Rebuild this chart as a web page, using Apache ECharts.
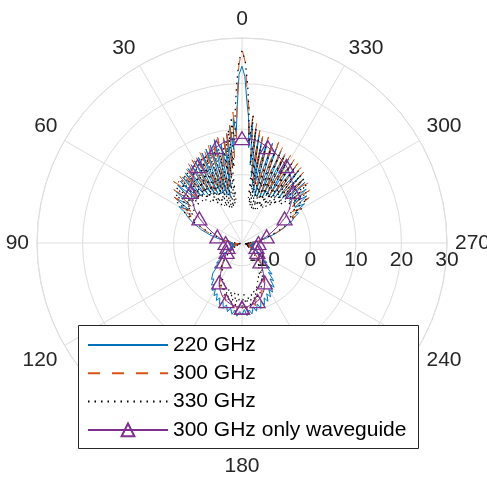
<!DOCTYPE html>
<html><head><meta charset="utf-8">
<script src="https://cdn.jsdelivr.net/npm/echarts@6/dist/echarts.min.js"></script>
<style>html,body{margin:0;padding:0;background:#fff}#c{width:487px;height:477px}</style>
</head><body><div id="c"></div>
<script>
// angles in degrees, counter-clockwise from the top (0 = boresight)
const angles = [
-180,-178,-176,-174,-172,-170,-168,-166,-164,-162,
-160,-158,-156,-154,-152,-150,-148,-146,-144,-142,
-140,-138,-136,-134,-132,-130,-128,-126,-124,-122,
-120,-118,-116,-114,-112,-110,-108,-106,-104,-102,
-100,-98,-96,-94,-92,-90,-88,-86,-84,-82,
-80,-78,-76,-74,-72,-70,-68,-66,-64,-62,
-60,-58,-56,-54,-52,-50,-48,-46,
-45,-44,-43,-42,-41,-40,-39,-38,-37,-36,
-35,-34,-33,-32,-31,-30,-29,-28,-27,-26,
-25,-24,-23,-22,-21,-20,-19,-18,-17,-16,
-15,-14,-13,-12,-11,-10,-9,-8,-7,-6,
-5,-4,-3,-2,-1,0,1,2,3,4,5,
6,7,8,9,10,11,12,13,14,15,
16,17,18,19,20,21,22,23,24,25,
26,27,28,29,30,31,32,33,34,35,
36,37,38,39,40,41,42,43,44,45,
46,48,50,52,54,56,58,60,62,64,66,68,70,72,
74,76,78,80,82,84,86,88,90,92,
94,96,98,100,102,104,106,108,110,112,
114,116,118,120,122,124,126,128,130,132,
134,136,138,140,142,144,146,148,150,152,
154,156,158,160,162,164,166,168,170,172,
174,176,178,180
];
const ghz220 = [
0.8,-0.4,1.0,-0.2,0.7,-0.8,0.3,-1.2,-0.1,-1.6,
-0.6,-2.0,-1.0,-2.6,-1.6,-3.2,-2.3,-4.0,-3.0,-5.0,
-4.2,-6.3,-5.5,-7.4,-6.8,-8.6,-8.0,-9.8,-9.4,-11.2,
-10.6,-12.3,-11.5,-13.0,-12.2,-13.6,-12.6,-14.0,-12.8,-13.9,
-12.5,-13.6,-12.4,-13.5,-12.3,-13.2,-12.0,-12.8,-11.2,-11.6,
-10.2,-9.3,-8.4,-7.2,-6.3,-5.0,-4.3,-2.9,-2.3,-0.9,
-1.4,1.2,-1.0,2.6,-0.7,3.4,-1.0,4.2,
-1.2,4.4,1.0,-1.8,4.9,0.5,-2.1,5.1,1.8,-2.4,
5.4,0.9,-2.8,5.8,2.2,-3.1,6.1,1.4,-3.4,6.4,
2.6,-3.7,6.9,1.7,-4.0,7.4,3.1,-4.2,7.9,2.4,
-4.4,8.3,3.6,-3.8,8.6,-2.2,9.0,-0.3,10.2,2.2,
11.6,6.0,12.6,16.0,21.5,23.8,22.0,15.0,9.0,12.5,5.5,
11.0,2.0,9.2,0.2,8.4,-2.8,7.2,2.5,-4.5,8.5,
3.0,-4.0,7.6,2.0,-3.8,7.1,2.8,-3.3,6.6,1.6,
-2.9,6.1,2.4,-2.6,5.8,1.2,-2.3,5.5,2.0,-2.0,
5.2,0.9,-1.6,4.8,1.6,-1.3,4.5,0.6,-1.1,4.2,
-1.2,4.0,-0.9,3.4,-1.0,2.6,-1.2,1.0,-1.0,-1.6,-2.6,-3.6,-4.8,-5.6,
-7.0,-7.8,-9.0,-10.0,-11.0,-11.6,-12.4,-12.0,-13.0,-12.3,
-13.4,-12.6,-13.7,-12.8,-13.8,-12.9,-13.9,-12.7,-13.5,-12.1,
-12.9,-11.4,-12.0,-10.5,-11.0,-9.2,-9.6,-7.9,-8.4,-6.8,
-7.2,-5.8,-6.0,-4.6,-5.0,-3.6,-4.0,-2.7,-3.3,-1.9,
-2.6,-1.2,-2.0,-0.6,-1.5,-0.1,-1.0,0.4,-0.5,0.8,
-0.2,1.1,0.1,0.8
];
const ghz300 = [
-0.5,-1.2,-0.3,-1.4,-0.6,-1.8,-0.9,-2.3,-1.6,-3.0,
-2.4,-3.8,-3.3,-4.8,-4.3,-5.8,-5.4,-6.9,-6.6,-8.0,
-7.8,-9.1,-9.0,-10.2,-10.0,-11.2,-10.8,-12.0,-11.5,-12.6,
-12.0,-13.2,-12.6,-13.8,-13.0,-14.0,-13.2,-14.2,-13.4,-14.3,
-13.3,-14.1,-13.0,-13.8,-12.8,-13.5,-12.4,-13.0,-11.6,-12.0,
-10.4,-10.2,-8.5,-8.2,-6.4,-6.0,-4.3,-4.0,-2.0,-2.6,
0.6,-2.0,2.8,-1.4,3.8,-0.6,4.8,2.6,
0.2,5.2,2.0,-1.0,5.6,1.2,-1.6,6.0,2.4,-2.0,
6.3,1.5,-2.3,6.6,3.0,-2.6,7.0,2.2,-2.8,7.5,
3.4,-3.0,8.0,2.6,-3.2,8.5,4.0,-3.0,8.8,3.2,
-2.6,9.0,1.0,-2.2,8.8,-1.0,10.0,0.8,11.4,4.2,
13.0,8.5,14.5,18.0,24.8,27.6,24.0,16.5,8.0,13.8,3.8,
11.8,1.0,10.4,-1.2,9.2,0.5,-2.5,8.8,2.6,-3.2,
8.6,3.4,-2.8,7.9,2.0,-2.6,7.4,2.9,-2.4,7.0,
1.8,-2.2,6.6,2.4,-1.9,6.3,1.3,-1.5,6.0,2.1,
-0.9,5.6,1.0,-0.5,5.3,1.7,-0.7,5.0,0.8,-1.0,
1.5,5.2,-0.7,4.0,-1.2,3.0,-1.8,0.8,-2.4,-1.8,-3.8,-4.0,-5.8,-6.2,
-7.8,-8.3,-9.8,-10.5,-11.6,-11.8,-12.8,-12.5,-13.4,-12.8,
-13.9,-13.1,-14.2,-13.3,-14.3,-13.4,-14.2,-13.2,-14.0,-13.0,
-13.6,-12.5,-13.0,-11.9,-12.4,-11.3,-11.8,-10.6,-11.0,-9.8,
-10.0,-8.8,-8.9,-7.6,-7.8,-6.4,-6.6,-5.2,-5.5,-4.2,
-4.6,-3.3,-3.8,-2.5,-3.1,-1.8,-2.4,-1.2,-1.8,-0.7,
-1.3,-0.3,-1.0,-0.5
];
const ghz330 = [
-1.0,-3.8,-0.8,-3.2,-1.2,-3.6,-1.6,-4.4,-2.4,-5.2,
-3.3,-6.0,-4.2,-6.9,-5.1,-7.6,-6.2,-8.6,-7.3,-9.4,
-8.5,-10.4,-9.6,-11.2,-10.6,-12.0,-11.4,-12.8,-12.2,-13.4,
-12.8,-13.9,-13.2,-14.3,-13.6,-14.5,-13.8,-14.6,-13.9,-14.6,
-13.8,-14.4,-13.6,-14.2,-13.2,-13.8,-12.6,-13.2,-11.8,-12.2,
-10.8,-10.8,-9.0,-8.8,-6.8,-6.6,-4.6,-4.6,-2.4,-3.4,
0.2,-2.6,2.4,-2.2,3.2,-2.0,4.2,-2.4,
-3.0,4.6,0.8,-3.2,4.8,-0.5,-4.2,5.2,0.2,-5.0,
5.3,-1.0,-5.6,5.5,-0.4,-6.0,5.6,-1.5,-6.4,5.8,
-0.8,-6.8,6.0,-2.0,-7.0,6.3,-1.2,-7.2,6.6,-2.2,
-7.3,6.8,-1.0,-6.8,6.8,-6.2,8.4,-5.0,10.4,2.2,
13.2,7.0,14.2,20.0,25.0,27.2,24.8,19.5,13.8,6.8,12.8,
1.6,10.0,-5.4,7.8,-6.4,6.2,-1.8,-7.0,6.4,-1.2,
-7.2,6.2,-2.0,-6.8,5.9,-1.0,-6.4,5.7,-1.8,-6.0,
5.5,-0.6,-5.6,5.3,-1.4,-5.0,5.1,-0.2,-4.4,4.9,
-0.8,-3.6,4.7,0.4,-2.8,4.5,-0.4,-2.4,4.3,0.6,
4.4,-2.4,3.9,-2.2,3.1,-2.4,1.8,-2.8,-0.6,-3.4,-2.8,-5.0,-5.2,-7.2,
-7.6,-9.3,-9.8,-11.2,-11.6,-12.6,-12.6,-13.4,-13.2,-14.0,
-13.6,-14.4,-13.8,-14.6,-13.9,-14.7,-13.9,-14.6,-13.8,-14.4,
-13.4,-14.0,-12.9,-13.4,-12.3,-12.6,-11.5,-11.8,-10.6,-10.9,
-9.6,-9.8,-8.5,-8.8,-7.4,-7.8,-6.3,-6.8,-5.3,-6.0,
-4.3,-5.4,-3.4,-5.0,-2.6,-4.6,-1.9,-4.2,-1.4,-4.0,
-1.1,-3.8,-0.9,-1.0
];
const wgAngles = [
-180,-175,-170,-165,-160,-155,-150,-145,-140,-135,-130,-125,-120,-115,-110,-105,-100,-95,-90,-85,-80,-75,-70,-65,-60,-55,-50,-45,-40,-35,-30,-25,-20,-15,-10,-5,
0,5,10,15,20,25,30,35,40,45,50,55,60,65,70,75,80,85,90,95,100,105,110,115,120,125,130,135,140,145,150,155,160,165,170,175,180
];
const wg300 = [
-0.8,-1.0,-1.3,-1.8,-2.5,-3.6,-5.0,-6.8,-8.2,-9.3,-10.1,-10.7,-11.1,-11.4,-11.6,-11.7,-11.7,-11.6,-11.4,-11.0,-10.4,-9.4,-8.0,-6.3,-4.2,-2.4,-0.8,0.9,2.2,3.4,4.5,5.3,6.1,6.8,7.5,7.9,
8.0,7.9,7.5,6.8,6.1,5.3,4.5,3.4,2.2,0.9,-0.8,-2.4,-4.2,-6.3,-8.0,-9.4,-10.4,-11.0,-11.4,-11.6,-11.7,-11.7,-11.6,-11.4,-11.1,-10.7,-10.1,-9.3,-8.2,-6.8,-5.0,-3.6,-2.5,-1.8,-1.3,-1.0,-0.8
];
const seriesNames = ['220 GHz', '300 GHz', '330 GHz', '300 GHz only waveguide'];
const rMin = -15, rMax = 30;
const thetaMax = 360, thetaStep = 30;

const FONT = 'Liberation Sans, Arial, Helvetica, sans-serif';
const GRID = '#dedede';
const TXT = '#262626';
const toPair = (vals, angs) => vals.map((v, i) => [v, (angs[i] + 360) % 360]);

const chart = echarts.init(document.getElementById('c'), null, {renderer: 'canvas'});
const polarCommon = {center: [242, 243], radius: 205};
chart.setOption({
  animation: false,
  backgroundColor: '#fff',
  polar: [Object.assign({}, polarCommon), Object.assign({}, polarCommon)],
  angleAxis: [
    {polarIndex: 0, type: 'value', min: 0, max: thetaMax, interval: thetaStep, startAngle: 90, clockwise: false, z: 1,
     axisLine: {show: true, lineStyle: {color: GRID, width: 1}},
     axisTick: {show: false},
     splitLine: {show: true, lineStyle: {color: GRID, width: 1}},
     axisLabel: {show: true, fontSize: 21, fontFamily: FONT, color: TXT, margin: 8,
       formatter: v => (v === thetaMax ? '' : String(v))}},
    {polarIndex: 1, type: 'value', min: 0, max: 360, startAngle: 0, show: false}
  ],
  radiusAxis: [
    {polarIndex: 0, type: 'value', min: rMin, max: rMax, splitNumber: 5, z: 1,
     axisLine: {show: false}, axisTick: {show: false}, axisLabel: {show: false},
     splitLine: {show: true, lineStyle: {color: GRID, width: 1}}},
    {polarIndex: 1, type: 'value', min: rMin, max: rMax, splitNumber: 5, z: 1,
     axisLine: {show: false}, axisTick: {show: false}, splitLine: {show: false},
     axisLabel: {show: true, fontSize: 21, fontFamily: FONT, color: TXT, margin: -28,
       formatter: v => (v === rMin ? '' : String(v))}}
  ],
  graphic: [{type: 'rect', z: 10, shape: {x: 78.5, y: 325.5, width: 340, height: 123},
    style: {fill: '#fff', stroke: '#262626', lineWidth: 1}}],
  legend: {
    z: 20, orient: 'vertical', left: 87, top: 334.5, padding: 0, itemGap: 7.3,
    itemWidth: 80, itemHeight: 16,
    textStyle: {fontSize: 21, fontFamily: FONT, color: '#000', lineHeight: 21},
    data: [
      {name: seriesNames[0], itemStyle: {opacity: 0}},
      {name: seriesNames[1], itemStyle: {opacity: 0}},
      {name: seriesNames[2], itemStyle: {opacity: 0}},
      {name: seriesNames[3]}
    ]
  },
  series: [
    {name: seriesNames[0], type: 'line', coordinateSystem: 'polar', polarIndex: 0, symbol: 'none',
     data: toPair(ghz220, angles), lineStyle: {color: '#0072BD', width: 1}, itemStyle: {color: '#0072BD'}, z: 2},
    {name: seriesNames[1], type: 'line', coordinateSystem: 'polar', polarIndex: 0, symbol: 'none',
     data: toPair(ghz300, angles), lineStyle: {color: '#D95319', width: 1, type: [12, 12]}, itemStyle: {color: '#D95319'}, z: 3},
    {name: seriesNames[2], type: 'line', coordinateSystem: 'polar', polarIndex: 0, symbol: 'none',
     data: toPair(ghz330, angles), lineStyle: {color: '#000', width: 1.2, type: [1.5, 5]}, itemStyle: {color: '#000'}, z: 4},
    {name: seriesNames[3], type: 'line', coordinateSystem: 'polar', polarIndex: 0,
     symbol: 'triangle', symbolSize: [15, 13], showAllSymbol: true,
     data: toPair(wg300, wgAngles).map(p => (Math.round(p[1]) % 15 === 0 ? {value: p} : {value: p, symbol: 'none'})),
     lineStyle: {color: '#7E2F8E', width: 1}, itemStyle: {color: 'rgba(255,255,255,0)', borderColor: '#7E2F8E', borderWidth: 1.3}, z: 5}
  ]
});
</script>
</body></html>
